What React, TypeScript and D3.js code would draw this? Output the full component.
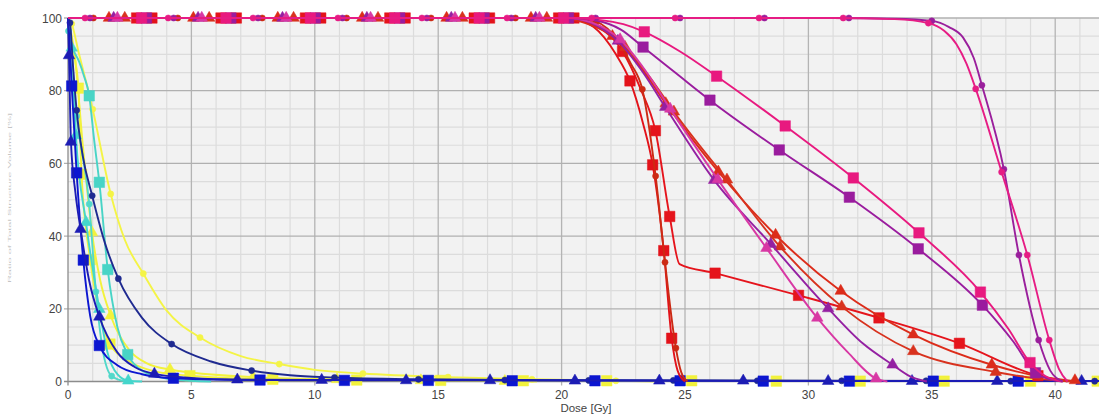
import { useEffect, useRef } from 'react';
import * as d3 from 'd3';

type P = [number, number];

// axis ticks
const xTicks = [0, 5, 10, 15, 20, 25, 30, 35, 40];
const yTicks = [0, 20, 40, 60, 80, 100];

// ---------- low dose structures (OAR) ----------
const yellowCircle: P[] = [[0, 100], [0.15, 98.4], [0.45, 90], [0.75, 82], [1.0, 74.9], [1.73, 51.6], [2.3, 39], [3.05, 29.7], [4.0, 19.5], [5.35, 12.1], [7, 7], [8.56, 4.8], [10, 3.2], [11.95, 2.2], [15.4, 1.2], [18.8, 0.6], [22.2, 0.2], [24, 0]];
const yellowCircleMarks: P[] = [[0.15, 98.4], [1.0, 74.9], [1.73, 51.6], [3.05, 29.7], [5.35, 12.1], [8.56, 4.8], [11.95, 2.2], [15.4, 1.2], [18.8, 0.6], [22.2, 0.2]];

const yellowTri: P[] = [[0, 100], [0.1, 97], [0.3, 88], [0.6, 65], [0.97, 41], [1.3, 28], [1.73, 18.1], [2.5, 8.5], [3.2, 5], [4.13, 3.3], [7.5, 1.2], [10.9, 0.6], [14.3, 0.3], [17.7, 0.1], [19, 0]];
const yellowTriMarks: P[] = [[0.97, 41], [1.73, 18.1], [4.13, 3.3], [7.5, 1.2], [10.9, 0.6], [14.3, 0.3], [17.7, 0.1]];

const yellowSq: P[] = [[0, 100], [0.1, 96], [0.3, 88], [0.42, 80.7], [0.55, 57], [0.9, 33.5], [1.3, 18], [1.7, 10.3], [2.5, 5.5], [3.5, 2.8], [4.94, 1.6], [8.3, 0.6], [11.7, 0.4], [15.1, 0.3], [41.8, 0.1]];
const yellowSqMarks: P[] = [[0.42, 80.7], [0.55, 57], [0.9, 33.5], [1.7, 10.3], [4.94, 1.6], [8.3, 0.6], [11.7, 0.4], [15.1, 0.3], [18.45, 0.2], [21.83, 0.2], [25.27, 0.2], [28.7, 0.1], [32.1, 0.1], [35.5, 0.1], [39.0, 0.1], [41.7, 0.1]];

const turqTri: P[] = [[0, 100], [0.08, 95], [0.15, 91.8], [0.32, 67.7], [0.73, 43.8], [1.27, 19.9], [1.6, 8], [2.0, 2], [2.44, 0.2], [3.0, 0]];
const turqTriMarks: P[] = [[0.15, 91.8], [0.32, 67.7], [0.73, 43.8], [1.27, 19.9], [2.44, 0.2]];

const turqCircle: P[] = [[0, 100], [0.02, 96.4], [0.35, 73], [0.86, 48.8], [1.13, 24.7], [1.4, 9], [1.77, 1.5], [2.3, 0.1], [2.6, 0]];
const turqCircleMarks: P[] = [[0.02, 96.4], [0.35, 73], [0.86, 48.8], [1.13, 24.7], [1.77, 1.5]];

const turqSq: P[] = [[0, 100], [0.05, 95], [0.2, 91.5], [0.45, 88], [0.65, 84], [0.86, 78.6], [1.05, 67], [1.27, 54.8], [1.61, 30.8], [2.0, 15], [2.42, 7.4], [3.0, 3], [4.0, 0.8], [5.0, 0.2], [5.8, 0]];
const turqSqMarks: P[] = [[0.86, 78.6], [1.27, 54.8], [1.61, 30.8], [2.42, 7.4]];

const navyCircle: P[] = [[0, 100], [0.08, 98.7], [0.2, 87], [0.35, 74.6], [0.6, 62], [0.98, 51.1], [1.5, 38], [2.04, 28.3], [3.0, 17.5], [4.2, 10.3], [5.8, 5.5], [7.44, 3.0], [9, 1.7], [10.8, 1.1], [14.2, 0.6], [17.7, 0.4], [41.8, 0.1]];
const navyCircleMarks: P[] = [[0.08, 98.7], [0.35, 74.6], [0.98, 51.1], [2.04, 28.3], [4.2, 10.3], [7.44, 3.0], [10.8, 1.1], [14.2, 0.6], [17.7, 0.4], [21.1, 0.3], [24.53, 0.3], [27.93, 0.2], [31.35, 0.2], [34.77, 0.2], [38.2, 0.1], [41.6, 0.1]];

const blueTri: P[] = [[0, 100], [0.04, 89.7], [0.12, 65.9], [0.3, 52], [0.51, 41.9], [0.85, 28], [1.27, 17.8], [2.0, 8], [2.7, 4], [3.5, 2.1], [5, 1], [6.86, 0.5], [10.28, 0.4], [41.8, 0.1]];
const blueTriMarks: P[] = [[0.04, 89.7], [0.12, 65.9], [0.51, 41.9], [1.27, 17.8], [3.5, 2.1], [6.86, 0.5], [10.28, 0.4], [13.7, 0.3], [17.1, 0.3], [20.54, 0.2], [23.96, 0.2], [27.36, 0.2], [30.8, 0.1], [34.2, 0.1], [37.65, 0.1], [41.07, 0.1]];

const blueSq: P[] = [[0, 100], [0.05, 95], [0.15, 81.3], [0.35, 57.4], [0.62, 33.4], [0.9, 18], [1.27, 9.9], [2, 4.5], [3, 2], [4.27, 0.9], [7.78, 0.4], [41.8, 0.1]];
const blueSqMarks: P[] = [[0.15, 81.3], [0.35, 57.4], [0.62, 33.4], [1.27, 9.9], [4.27, 0.9], [7.78, 0.4], [11.2, 0.3], [14.6, 0.3], [18.0, 0.2], [21.35, 0.2], [24.8, 0.2], [28.17, 0.1], [31.66, 0.1], [35.06, 0.1], [38.5, 0.1]];

// ---------- target structures ----------
const redKink: P[] = [[0, 100], [20.0, 100], [21.1, 98.5], [22.47, 90.8], [23.2, 80.5], [23.8, 69], [24.38, 45.4], [24.78, 32.3], [26.22, 29.8], [29.6, 23.7], [32.86, 17.5], [36.12, 10.5], [39.3, 1.6], [40.5, 0]];
const redKinkMarks: P[] = [[2.78, 100], [6.2, 100], [9.62, 100], [13.04, 100], [16.46, 100], [19.88, 100], [22.47, 90.8], [23.8, 69], [24.38, 45.4], [26.22, 29.8], [29.6, 23.7], [32.86, 17.5], [36.12, 10.5], [39.3, 1.6]];

const redSq: P[] = [[0, 100], [20.3, 100], [21.3, 97.5], [22.2, 90], [22.77, 82.7], [23.3, 71], [23.69, 59.6], [24.14, 36], [24.46, 11.9], [24.7, 3], [25.0, 0]];
const redSqMarks: P[] = [[3.4, 100], [6.82, 100], [10.24, 100], [13.66, 100], [17.08, 100], [20.5, 100], [22.77, 82.7], [23.69, 59.6], [24.14, 36], [24.46, 11.9]];

const redCircle: P[] = [[0, 100], [20.5, 100], [21.4, 99], [22.3, 93.5], [22.8, 87.5], [23.27, 80.4], [23.81, 56.5], [24.19, 32.8], [24.63, 9.2], [24.85, 2.5], [25.1, 0]];
const redCircleMarks: P[] = [[1.03, 100], [4.45, 100], [7.87, 100], [11.29, 100], [14.71, 100], [18.13, 100], [21.4, 99], [23.27, 80.4], [23.81, 56.5], [24.19, 32.8], [24.63, 9.2]];

const redTri1: P[] = [[0, 100], [20.0, 100], [21.0, 98.5], [22.06, 95], [23.2, 86.5], [24.22, 76.5], [26.35, 57.7], [28.67, 40.3], [31.31, 24.9], [34.25, 12.9], [37.43, 4.6], [39.2, 1.6], [40.9, 0]];
const redTri1Marks: P[] = [[1.66, 100], [5.08, 100], [8.5, 100], [11.92, 100], [15.34, 100], [18.76, 100], [22.06, 95], [24.22, 76.5], [26.35, 57.7], [28.67, 40.3], [31.31, 24.9], [34.25, 12.9], [37.43, 4.6], [40.8, 0.3]];

const redTri2: P[] = [[0, 100], [20.3, 100], [21.4, 98.3], [22.57, 92], [23.6, 83.5], [24.55, 74.2], [26.7, 55.5], [28.85, 37.1], [31.35, 20.6], [34.25, 8.3], [37.59, 2.6], [39.3, 0.8], [40.7, 0]];
const redTri2Marks: P[] = [[2.3, 100], [5.72, 100], [9.14, 100], [12.56, 100], [15.98, 100], [19.4, 100], [22.57, 92], [24.55, 74.2], [26.7, 55.5], [28.85, 37.1], [31.35, 20.6], [34.25, 8.3], [37.59, 2.6]];

const purpleTri: P[] = [[0, 100], [20.2, 100], [21.2, 98.6], [22.28, 93.7], [23.3, 85], [24.2, 75.5], [26.18, 55.4], [28.48, 37.8], [30.8, 20.1], [32.2, 10.5], [33.41, 4.6], [34.1, 1.5], [34.8, 0]];
const purpleTriMarks: P[] = [[1.85, 100], [5.27, 100], [8.69, 100], [12.11, 100], [15.53, 100], [18.95, 100], [22.28, 93.7], [24.2, 75.5], [26.18, 55.4], [28.48, 37.8], [30.8, 20.1], [33.41, 4.6]];

const pinkTri: P[] = [[0, 100], [20.2, 100], [21.2, 98.8], [22.37, 94.1], [23.4, 85.5], [24.4, 75], [26.33, 55.6], [28.3, 36.7], [30.36, 17.5], [31.6, 8], [32.74, 0.8], [33.2, 0]];
const pinkTriMarks: P[] = [[2.0, 100], [5.42, 100], [8.84, 100], [12.26, 100], [15.68, 100], [19.1, 100], [22.37, 94.1], [24.4, 75], [26.33, 55.6], [28.3, 36.7], [30.36, 17.5], [32.74, 0.8]];

const purpleSq: P[] = [[0, 100], [20.3, 100], [21.4, 99.3], [22.4, 96.8], [23.3, 92], [24.6, 85], [26.01, 77.4], [28.82, 63.7], [31.66, 50.7], [34.45, 36.5], [37.05, 21], [38.3, 11], [39.2, 2.4], [39.8, 0.6], [40.3, 0]];
const purpleSqMarks: P[] = [[3.18, 100], [6.6, 100], [10.02, 100], [13.44, 100], [16.86, 100], [20.28, 100], [23.3, 92], [26.01, 77.4], [28.82, 63.7], [31.66, 50.7], [34.45, 36.5], [37.05, 21], [39.2, 2.4]];

const pinkSq: P[] = [[0, 100], [20.3, 100], [21.5, 99.5], [22.5, 98.3], [23.35, 96.2], [24.8, 90.8], [26.28, 84], [29.06, 70.3], [31.82, 56], [34.48, 40.9], [36.97, 24.6], [38.1, 14.5], [38.98, 5.2], [39.6, 1.5], [40.3, 0]];
const pinkSqMarks: P[] = [[2.98, 100], [6.4, 100], [9.82, 100], [13.24, 100], [16.66, 100], [20.08, 100], [23.35, 96.2], [26.28, 84], [29.06, 70.3], [31.82, 56], [34.48, 40.9], [36.97, 24.6], [38.98, 5.2]];

const purpleCircle: P[] = [[0, 100], [31, 100], [33.5, 99.8], [35.0, 99.2], [35.7, 97.5], [36.27, 94.6], [36.7, 89], [37.03, 81.5], [37.92, 58.4], [38.53, 34.8], [39.33, 11.4], [39.8, 3], [40.3, 0]];
const purpleCircleMarks: P[] = [[0.89, 100], [4.28, 100], [7.7, 100], [11.12, 100], [14.54, 100], [17.96, 100], [21.38, 100], [24.8, 100], [28.22, 100], [31.64, 100], [35.0, 99.2], [37.03, 81.5], [37.92, 58.4], [38.53, 34.8], [39.33, 11.4]];

const pinkCircle: P[] = [[0, 100], [31, 100], [33.5, 99.7], [34.86, 98.6], [35.5, 96.5], [36.0, 92.8], [36.4, 87.5], [36.78, 80.5], [37.83, 57.6], [38.87, 34.8], [39.76, 11.4], [40.15, 3.5], [40.5, 0]];
const pinkCircleMarks: P[] = [[0.69, 100], [4.06, 100], [7.5, 100], [10.94, 100], [14.34, 100], [17.79, 100], [21.22, 100], [24.6, 100], [28.0, 100], [31.41, 100], [34.86, 98.6], [36.78, 80.5], [37.83, 57.6], [38.87, 34.8], [39.76, 11.4]];

type Shape = 'circle' | 'square' | 'triangle';

export default function App() {
  const svgRef = useRef<SVGSVGElement>(null);

  useEffect(() => {
    const width = 1099;
    const plotTop = 18;
    const plotBottom = 381.5;
    const plotLeft = 68;
    const font = '"Liberation Sans", Arial, sans-serif';

    const svg = d3.select(svgRef.current);
    svg.selectAll('*').remove();

    const x = d3.scaleLinear().domain([0, 42]).range([plotLeft, plotLeft + 42 * 24.68]);
    const y = d3.scaleLinear().domain([0, 100]).range([plotBottom, plotTop]);

    // plot background
    svg.append('rect')
      .attr('x', plotLeft).attr('y', plotTop)
      .attr('width', width - plotLeft).attr('height', plotBottom - plotTop)
      .attr('fill', '#f2f2f2');

    // minor grid
    const g = svg.append('g');
    d3.range(1, 43).filter(d => d % 5 !== 0).forEach(d => {
      g.append('line').attr('x1', x(d)).attr('x2', x(d)).attr('y1', plotTop).attr('y2', plotBottom)
        .attr('stroke', '#dcdcdc').attr('stroke-width', 1.2);
    });
    d3.range(5, 100, 5).filter(d => d % 20 !== 0).forEach(d => {
      g.append('line').attr('x1', plotLeft).attr('x2', width).attr('y1', y(d)).attr('y2', y(d))
        .attr('stroke', '#dcdcdc').attr('stroke-width', 1.2);
    });
    // major grid
    xTicks.filter(d => d > 0).forEach(d => {
      g.append('line').attr('x1', x(d)).attr('x2', x(d)).attr('y1', plotTop).attr('y2', plotBottom + 4)
        .attr('stroke', '#b4b4b4').attr('stroke-width', 1.3);
    });
    yTicks.filter(d => d > 0).forEach(d => {
      g.append('line').attr('x1', plotLeft - 4).attr('x2', width).attr('y1', y(d)).attr('y2', y(d))
        .attr('stroke', '#b0b0b0').attr('stroke-width', 1.3);
    });
    // axes
    g.append('line').attr('x1', plotLeft).attr('x2', plotLeft).attr('y1', plotTop).attr('y2', plotBottom + 4)
      .attr('stroke', '#8c8c8c').attr('stroke-width', 1.3);
    g.append('line').attr('x1', plotLeft - 4).attr('x2', width).attr('y1', plotBottom).attr('y2', plotBottom)
      .attr('stroke', '#8c8c8c').attr('stroke-width', 1.3);

    // tick labels
    yTicks.forEach(d => {
      svg.append('text').attr('x', plotLeft - 6).attr('y', y(d) + 4.5)
        .attr('text-anchor', 'end').attr('font-family', font).attr('font-size', 12)
        .attr('fill', '#444').text(d);
    });
    xTicks.forEach(d => {
      svg.append('text').attr('x', x(d)).attr('y', 399)
        .attr('text-anchor', 'middle').attr('font-family', font).attr('font-size', 12)
        .attr('fill', '#444').text(d);
    });
    svg.append('text').attr('x', 586).attr('y', 412.3)
      .attr('text-anchor', 'middle').attr('font-family', font).attr('font-size', 11.5)
      .attr('fill', '#444').text('Dose [Gy]');
    // faint y axis title
    svg.append('text')
      .attr('transform', 'translate(11,198) rotate(-90) scale(1,0.3)')
      .attr('text-anchor', 'middle').attr('font-family', font).attr('font-size', 11)
      .attr('fill', '#c4c4c4').text('Ratio of Total Structure Volume [%]');

    const series: { pts: P[]; marks: P[]; color: string; shape: Shape }[] = [
      { pts: yellowSq, marks: yellowSqMarks, color: '#f2f23c', shape: 'square' },
      { pts: yellowTri, marks: yellowTriMarks, color: '#f2f23c', shape: 'triangle' },
      { pts: yellowCircle, marks: yellowCircleMarks, color: '#f4f446', shape: 'circle' },
      { pts: turqSq, marks: turqSqMarks, color: '#48d4c6', shape: 'square' },
      { pts: turqCircle, marks: turqCircleMarks, color: '#52d8ca', shape: 'circle' },
      { pts: turqTri, marks: turqTriMarks, color: '#44d6cc', shape: 'triangle' },
      { pts: navyCircle, marks: navyCircleMarks, color: '#1f2a90', shape: 'circle' },
      { pts: blueSq, marks: blueSqMarks, color: '#0c16d0', shape: 'square' },
      { pts: blueTri, marks: blueTriMarks, color: '#1c1cb4', shape: 'triangle' },
      { pts: redKink, marks: redKinkMarks, color: '#e5141c', shape: 'square' },
      { pts: redSq, marks: redSqMarks, color: '#e3121a', shape: 'square' },
      { pts: redCircle, marks: redCircleMarks, color: '#cc2a14', shape: 'circle' },
      { pts: redTri1, marks: redTri1Marks, color: '#dc2c1a', shape: 'triangle' },
      { pts: redTri2, marks: redTri2Marks, color: '#d8321e', shape: 'triangle' },
      { pts: purpleTri, marks: purpleTriMarks, color: '#9420a2', shape: 'triangle' },
      { pts: pinkTri, marks: pinkTriMarks, color: '#d838a4', shape: 'triangle' },
      { pts: purpleSq, marks: purpleSqMarks, color: '#9a1c9e', shape: 'square' },
      { pts: pinkSq, marks: pinkSqMarks, color: '#e8197f', shape: 'square' },
      { pts: purpleCircle, marks: purpleCircleMarks, color: '#9a1f9c', shape: 'circle' },
      { pts: pinkCircle, marks: pinkCircleMarks, color: '#e61c84', shape: 'circle' },
    ];

    const line = d3.line<P>()
      .x(d => x(d[0]))
      .y(d => y(d[1]))
      .curve(d3.curveMonotoneX);

    const sym = (shape: Shape) => {
      if (shape === 'square') return d3.symbol().type(d3.symbolSquare).size(110)();
      if (shape === 'triangle') return d3.symbol().type(d3.symbolTriangle).size(58)();
      return d3.symbol().type(d3.symbolCircle).size(30)();
    };

    // each structure: curve, then its markers (later ones cover earlier ones)
    series.forEach(s => {
      const sg = svg.append('g');
      sg.append('path')
        .datum(s.pts)
        .attr('fill', 'none')
        .attr('stroke', s.color)
        .attr('stroke-width', 1.9)
        .attr('d', line);
      sg.selectAll('path.mark')
        .data(s.marks)
        .join('path')
        .attr('class', 'mark')
        .attr('transform', d => `translate(${x(d[0])},${y(d[1])})`)
        .attr('d', sym(s.shape))
        .attr('fill', s.color)
        .attr('stroke', s.color)
        .attr('stroke-width', 0.5);
    });
  }, []);

  return (
    <div style={{ position: 'absolute', left: 0, top: 0 }}>
      <svg ref={svgRef} width={1099} height={415} style={{ display: 'block', background: '#fff' }} />
    </div>
  );
}
